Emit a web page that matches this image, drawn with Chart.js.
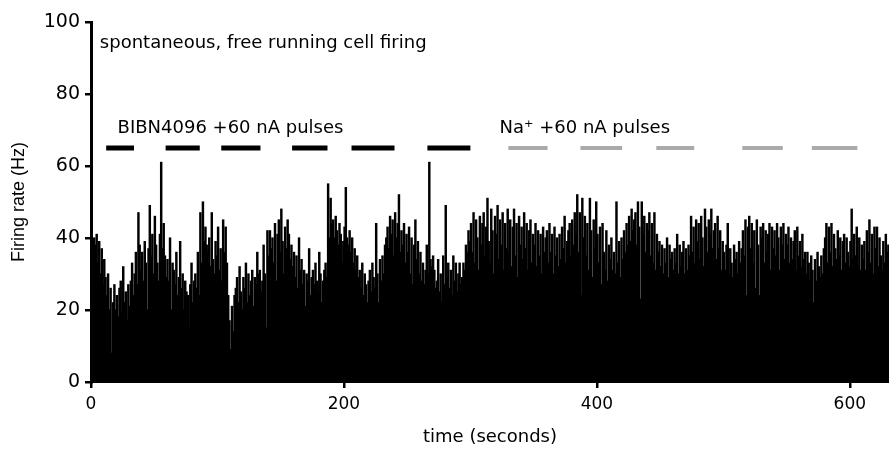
<!DOCTYPE html>
<html>
<head>
<meta charset="utf-8">
<script src="https://cdn.jsdelivr.net/npm/chart.js@4.4.1/dist/chart.umd.min.js"></script>
<style>
  body { margin: 0; background: #fff; }
  #wrap { width: 889px; height: 452px; position: relative; }
</style>
</head>
<body>
<div id="wrap"><canvas id="rateChart"></canvas></div>
<script>
/* ===========================
Data (1 s bins, Hz)
=========================== */

const binSeconds = 1;

const firingRate = [
    49, 24, 40, 38, 41, 33, 39, 30, 37, 27,
    34, 29, 24, 30, 20, 26, 8, 22, 27, 20,
    24, 18, 26, 28, 19, 32, 22, 25, 17, 27,
    21, 28, 33, 24, 30, 36, 27, 47, 38, 31,
    36, 28, 39, 33, 20, 37, 49, 35, 41, 30,
    46, 38, 33, 28, 41, 61, 37, 44, 35, 29,
    34, 28, 40, 20, 33, 31, 27, 36, 24, 29,
    39, 26, 30, 20, 28, 25, 24, 15, 27, 33,
    22, 28, 30, 26, 36, 24, 47, 33, 50, 39,
    43, 38, 36, 40, 32, 47, 34, 30, 39, 35,
    43, 31, 37, 28, 45, 36, 43, 33, 24, 17,
    9, 21, 14, 24, 26, 29, 22, 32, 25, 20,
    29, 26, 33, 22, 30, 24, 28, 31, 21, 29,
    27, 36, 30, 31, 25, 28, 38, 30, 15, 42,
    35, 42, 37, 40, 33, 44, 28, 41, 45, 36,
    48, 39, 30, 43, 37, 45, 41, 34, 38, 32,
    36, 29, 35, 26, 40, 31, 34, 27, 31, 21,
    30, 28, 37, 24, 29, 31, 27, 33, 28, 25,
    36, 30, 22, 28, 31, 33, 29, 55, 40, 51,
    44, 45, 40, 46, 42, 38, 44, 41, 33, 39,
    43, 54, 40, 38, 42, 36, 40, 33, 37, 31,
    35, 29, 31, 26, 33, 24, 30, 27, 22, 28,
    31, 25, 33, 29, 26, 44, 30, 22, 34, 28,
    35, 30, 38, 40, 43, 37, 46, 41, 45, 35,
    47, 40, 44, 52, 36, 42, 38, 44, 33, 41,
    36, 43, 30, 40, 27, 38, 45, 34, 39, 30,
    36, 28, 33, 27, 31, 38, 30, 61, 34, 32,
    35, 31, 26, 28, 34, 25, 30, 22, 35, 27,
    49, 29, 33, 26, 31, 24, 35, 28, 33, 25,
    30, 33, 27, 29, 33, 31, 38, 36, 42, 39,
    44, 36, 47, 33, 45, 40, 31, 46, 38, 44,
    47, 35, 43, 51, 39, 33, 48, 42, 30, 46,
    41, 49, 34, 45, 38, 47, 31, 44, 37, 48,
    36, 45, 32, 43, 48, 35, 44, 29, 46, 38,
    43, 34, 47, 37, 44, 31, 42, 45, 33, 41,
    38, 44, 32, 42, 35, 41, 30, 43, 36, 40,
    42, 33, 44, 36, 41, 30, 43, 35, 40, 32,
    41, 34, 43, 37, 46, 33, 39, 42, 44, 35,
    45, 38, 47, 41, 52, 36, 47, 24, 51, 40,
    46, 35, 44, 31, 51, 42, 29, 45, 37, 50,
    41, 33, 43, 27, 44, 36, 31, 42, 28, 38,
    34, 40, 31, 36, 30, 50, 33, 39, 29, 40,
    34, 42, 36, 44, 38, 46, 39, 48, 42, 45,
    47, 38, 50, 43, 23, 50, 41, 46, 36, 44,
    42, 47, 35, 44, 33, 47, 31, 41, 36, 39,
    32, 38, 30, 37, 33, 40, 29, 38, 34, 36,
    31, 37, 33, 41, 30, 38, 32, 36, 39, 30,
    37, 31, 38, 35, 46, 36, 43, 33, 45, 39,
    44, 34, 46, 40, 32, 48, 43, 36, 45, 41,
    48, 37, 42, 44, 34, 46, 37, 42, 31, 39,
    36, 31, 38, 44, 30, 37, 33, 29, 38, 34,
    36, 30, 39, 33, 37, 42, 35, 45, 24, 43,
    46, 37, 44, 33, 42, 26, 45, 38, 24, 43,
    40, 44, 33, 42, 36, 41, 44, 31, 43, 37,
    42, 35, 44, 40, 31, 43, 38, 44, 34, 41,
    38, 43, 33, 40, 34, 39, 42, 31, 43, 35,
    39, 32, 41, 34, 36, 30, 36, 33, 28, 35,
    31, 22, 34, 28, 36, 32, 29, 35, 30, 37,
    40, 44, 33, 43, 36, 44, 32, 41, 37, 34,
    42, 35, 40, 31, 39, 41, 33, 40, 36, 32,
    39, 48, 34, 41, 35, 43, 32, 40, 31, 38,
    34, 39, 31, 42, 36, 45, 33, 41, 30, 43,
    37, 43, 32, 40, 35, 31, 39, 33, 41, 36,
    38
];

// pulse periods (seconds)
const bibnStarts = [12, 59, 103, 159, 206, 266];
const bibnEnds   = [34, 86, 134, 187, 240, 300];
const naStarts   = [330, 387, 447, 515, 570];
const naEnds     = [361, 420, 477, 547, 606];
const pulseLevel = 65;

const xTicks = [0, 200, 400, 600];
const yTicks = [0, 20, 40, 60, 80, 100];

/* ===========================
Build datasets
=========================== */

const barPoints = firingRate.map((v, i) => ({ x: i * binSeconds + binSeconds / 2, y: v }));

function pulseLine(starts, ends) {
    let pts = [];
    starts.forEach((s, i) => {
        pts.push({ x: s, y: pulseLevel });
        pts.push({ x: ends[i], y: pulseLevel });
        pts.push({ x: ends[i] + 0.5, y: null });
    });
    return pts;
}

const FONT = "'Liberation Sans', Arial, sans-serif";
const WIDE = "'DejaVu Sans', sans-serif";

const labelPlugin = {
    id: "labels",
    afterDraw(chart) {
        const ctx = chart.ctx;
        const x = chart.scales.x;
        const y = chart.scales.y;
        ctx.save();
        ctx.fillStyle = "#000";
        ctx.textBaseline = "middle";
        ctx.font = "18px " + WIDE;
        ctx.fillText("spontaneous, free running cell firing", x.getPixelForValue(7), y.getPixelForValue(94));
        ctx.fillText("BIBN4096 +60 nA pulses", x.getPixelForValue(21), y.getPixelForValue(70.5));
        ctx.fillText("Na\u207A +60 nA pulses", x.getPixelForValue(323), y.getPixelForValue(70.5));
        ctx.restore();
    }
};

new Chart(document.getElementById("rateChart"), {

    type: "bar",

    data: {
        datasets: [
            {
                type: "line",
                data: pulseLine(bibnStarts, bibnEnds),
                borderColor: "#000",
                borderWidth: 5,
                pointRadius: 0,
                spanGaps: false,
                order: 0
            },
            {
                type: "line",
                data: pulseLine(naStarts, naEnds),
                borderColor: "#aaaaaa",
                borderWidth: 4,
                pointRadius: 0,
                spanGaps: false,
                order: 0
            },
            {
                data: barPoints,
                backgroundColor: "#000",
                borderWidth: 0,
                barPercentage: 1,
                categoryPercentage: 1,
                inflateAmount: 0.6,
                order: 1
            }
        ]
    },

    options: {
        responsive: true,
        maintainAspectRatio: false,
        animation: false,
        layout: { padding: { top: 22, right: 0, left: 0, bottom: 0 } },
        plugins: {
            legend: { display: false },
            tooltip: { enabled: false }
        },
        scales: {
            x: {
                type: "linear",
                min: 0,
                max: 631,
                offset: false,
                afterBuildTicks: s => { s.ticks = xTicks.map(v => ({ value: v })); },
                afterFit: s => { s.height = 70; },
                grid: { offset: false, drawOnChartArea: false, color: "#000", lineWidth: 2.5, tickLength: 6 },
                border: { color: "#000", width: 2 },
                ticks: { color: "#000", font: { family: WIDE, size: 17 }, padding: 6, maxRotation: 0 },
                title: { display: true, text: "time (seconds)", color: "#000", font: { family: WIDE, size: 18 }, padding: { top: 6 } }
            },
            y: {
                min: 0,
                max: 100,
                afterBuildTicks: s => { s.ticks = yTicks.map(v => ({ value: v })); },
                afterFit: s => { s.width = 91; },
                grid: { drawOnChartArea: false, color: "#000", lineWidth: 2.5, tickLength: 6 },
                border: { color: "#000", width: 3 },
                ticks: { color: "#000", font: { family: WIDE, size: 19 }, padding: 5 },
                title: { display: true, text: "Firing rate (Hz)", color: "#000", font: { family: FONT, size: 18 }, padding: { top: 8, bottom: 0 } }
            }
        }
    },

    plugins: [labelPlugin]

});
</script>
</body>
</html>
